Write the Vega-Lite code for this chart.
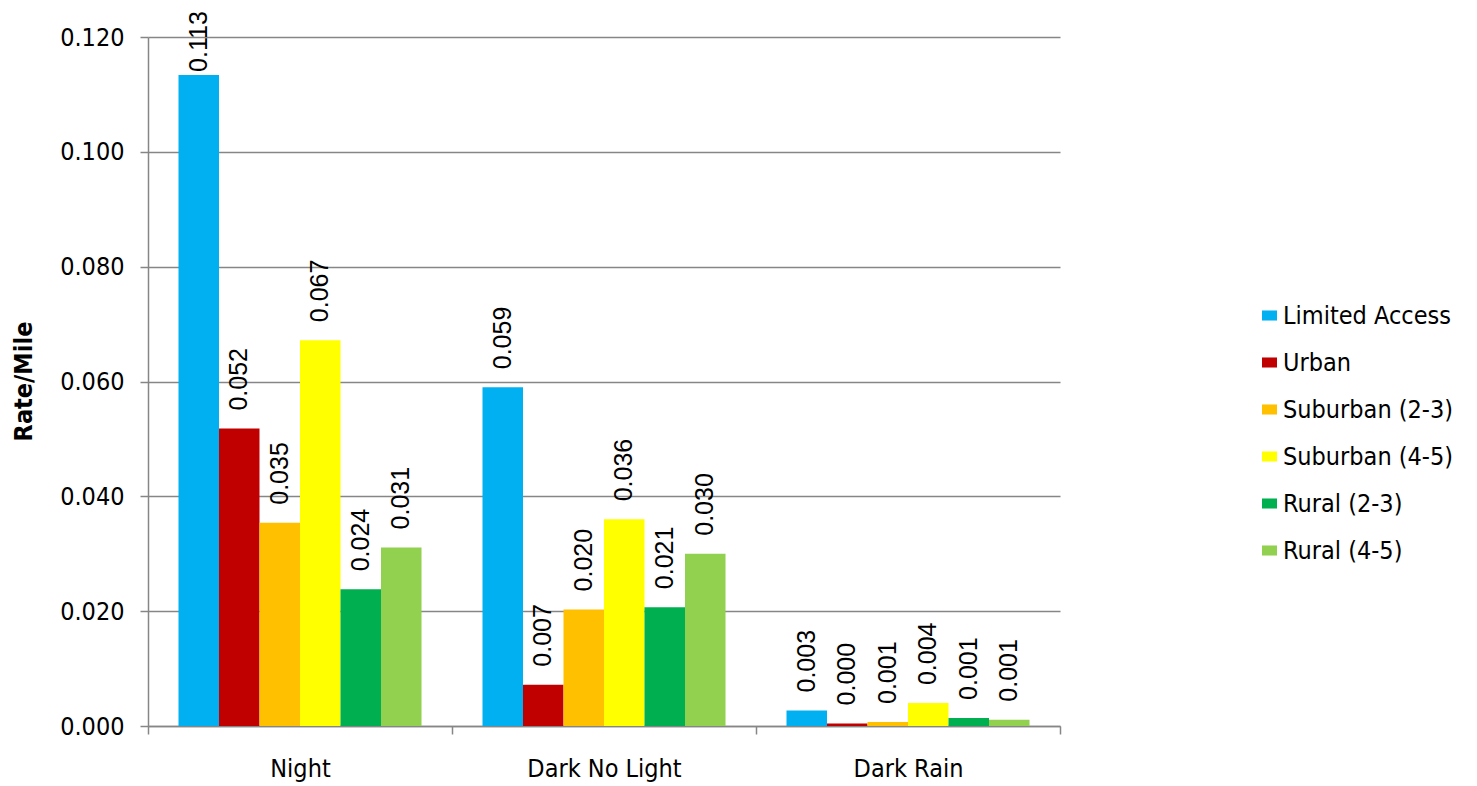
{
  "$schema": "https://vega.github.io/schema/vega-lite/v6.json",
  "width": 912,
  "height": 689,
  "autosize": {"type": "none"},
  "padding": {"left": 148, "top": 37, "right": 417, "bottom": 60},
  "background": "white",
  "config": {
    "view": {"stroke": null},
    "font": "DejaVu Sans Condensed"
  },
  "data": {
    "values": [
      {"condition": "Night", "road": "Limited Access", "value": 0.1134},
      {"condition": "Night", "road": "Urban", "value": 0.0518},
      {"condition": "Night", "road": "Suburban (2-3)", "value": 0.0354},
      {"condition": "Night", "road": "Suburban (4-5)", "value": 0.0672},
      {"condition": "Night", "road": "Rural (2-3)", "value": 0.0238},
      {"condition": "Night", "road": "Rural (4-5)", "value": 0.0311},
      {"condition": "Dark No Light", "road": "Limited Access", "value": 0.0590},
      {"condition": "Dark No Light", "road": "Urban", "value": 0.0072},
      {"condition": "Dark No Light", "road": "Suburban (2-3)", "value": 0.0203},
      {"condition": "Dark No Light", "road": "Suburban (4-5)", "value": 0.0360},
      {"condition": "Dark No Light", "road": "Rural (2-3)", "value": 0.0207},
      {"condition": "Dark No Light", "road": "Rural (4-5)", "value": 0.0300},
      {"condition": "Dark Rain", "road": "Limited Access", "value": 0.0027},
      {"condition": "Dark Rain", "road": "Urban", "value": 0.00045},
      {"condition": "Dark Rain", "road": "Suburban (2-3)", "value": 0.0007},
      {"condition": "Dark Rain", "road": "Suburban (4-5)", "value": 0.0040},
      {"condition": "Dark Rain", "road": "Rural (2-3)", "value": 0.0014},
      {"condition": "Dark Rain", "road": "Rural (4-5)", "value": 0.0011}
    ]
  },
  "encoding": {
    "x": {
      "field": "condition",
      "type": "nominal",
      "sort": ["Night", "Dark No Light", "Dark Rain"],
      "scale": {"paddingInner": 0, "paddingOuter": 0},
      "axis": {
        "title": null,
        "labelAngle": 0,
        "tickBand": "extent",
        "tickSize": 8,
        "tickColor": "#868686",
        "tickWidth": 1.5,
        "domainColor": "#868686",
        "domainWidth": 1.5,
        "labelPadding": 22,
        "labelFont": "DejaVu Sans Condensed",
        "labelFontSize": 25,
        "labelColor": "black",
        "grid": false
      }
    },
    "xOffset": {
      "field": "road",
      "type": "nominal",
      "sort": ["Limited Access", "Urban", "Suburban (2-3)", "Suburban (4-5)", "Rural (2-3)", "Rural (4-5)"],
      "scale": {"paddingInner": 0, "paddingOuter": 0.753}
    },
    "y": {
      "field": "value",
      "type": "quantitative",
      "scale": {"domain": [0, 0.12], "nice": false},
      "axis": {
        "title": "Rate/Mile",
        "values": [0, 0.02, 0.04, 0.06, 0.08, 0.1, 0.12],
        "format": ".3f",
        "grid": true,
        "gridColor": "#868686",
        "gridWidth": 1.5,
        "domainColor": "#868686",
        "domainWidth": 1.5,
        "tickColor": "#868686",
        "tickWidth": 1.5,
        "tickSize": 8,
        "labelPadding": 16,
        "labelFont": "DejaVu Sans Condensed",
        "labelFontSize": 25,
        "labelColor": "black",
        "titleFont": "DejaVu Sans Condensed",
        "titleFontWeight": "bold",
        "titleFontSize": 25,
        "titleColor": "black",
        "titleAngle": 270,
        "titleX": -125,
        "titleY": 344,
        "titleAlign": "center",
        "titleBaseline": "middle"
      }
    }
  },
  "layer": [
    {
      "mark": {"type": "bar"},
      "encoding": {
        "color": {
          "field": "road",
          "type": "nominal",
          "scale": {
            "domain": ["Limited Access", "Urban", "Suburban (2-3)", "Suburban (4-5)", "Rural (2-3)", "Rural (4-5)"],
            "range": ["#00B0F0", "#C00000", "#FFC000", "#FFFF00", "#00B050", "#92D050"]
          },
          "legend": {
            "title": null,
            "orient": "none",
            "legendX": 1109,
            "legendY": 266,
            "padding": 0,
            "symbolType": "M-1,-0.67H1V0.67H-1Z",
            "symbolSize": 225,
            "symbolStrokeWidth": 0,
            "symbolOpacity": 1,
            "labelFont": "DejaVu Sans Condensed",
            "labelFontSize": 25,
            "labelColor": "black",
            "labelOffset": 1,
            "rowPadding": 21,
            "labelLimit": 300
          }
        }
      }
    },
    {
      "transform": [{"filter": "datum.value < 0.1"}],
      "mark": {"type": "text", "angle": 270, "align": "left", "baseline": "middle", "dx": 18, "font": "Liberation Sans", "fontSize": 25, "color": "black"},
      "encoding": {"text": {"field": "value", "type": "quantitative", "format": ".3f"}}
    },
    {
      "transform": [{"filter": "datum.value >= 0.1"}],
      "mark": {"type": "text", "angle": 270, "align": "left", "baseline": "middle", "dx": 3, "font": "Liberation Sans", "fontSize": 25, "color": "black"},
      "encoding": {"text": {"field": "value", "type": "quantitative", "format": ".3f"}}
    }
  ]
}
